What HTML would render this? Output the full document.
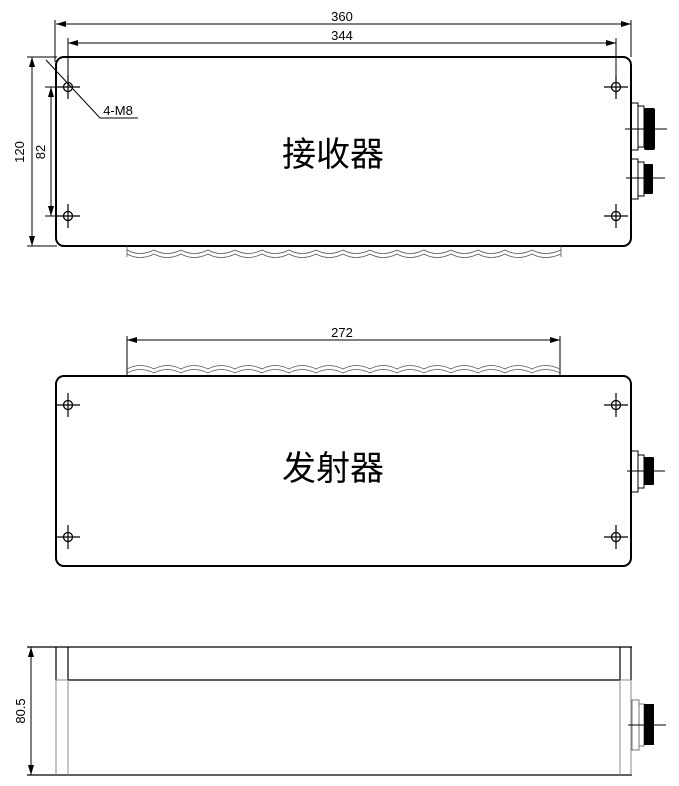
<!DOCTYPE html>
<html><head><meta charset="utf-8"><style>body{margin:0;background:#fff}svg{display:block}</style></head><body>
<svg width="679" height="786" viewBox="0 0 679 786" xmlns="http://www.w3.org/2000/svg" font-family="Liberation Sans, sans-serif">
<defs>
<marker id="a" viewBox="0 0 10 6" refX="10" refY="3" markerWidth="10" markerHeight="6" orient="auto-start-reverse" markerUnits="userSpaceOnUse"><path d="M0,0L10,3L0,6z" fill="#000"/></marker>
<g id="h"><circle r="4.5" fill="none" stroke="#000" stroke-width="1.3"/><path d="M-12,0H12M0,-12V12" stroke="#000" stroke-width="1.2"/></g>
</defs>
<g stroke="#000" fill="none">
<path d="M55,20V62M631,20V57M68,38V90M616,38V90" stroke-width="1"/>
<line x1="56" y1="24" x2="631" y2="24" stroke-width="1" marker-start="url(#a)" marker-end="url(#a)"/>
<line x1="68" y1="43" x2="616" y2="43" stroke-width="1" marker-start="url(#a)" marker-end="url(#a)"/>
<path d="M27,57H57M27,246H57M45,87H70M45,216H70" stroke-width="1"/>
<line x1="32" y1="57" x2="32" y2="246" stroke-width="1" marker-start="url(#a)" marker-end="url(#a)"/>
<line x1="51" y1="87" x2="51" y2="216" stroke-width="1" marker-start="url(#a)" marker-end="url(#a)"/>
<path d="M46,60L100,118H138" stroke-width="1"/>
<rect x="56" y="57" width="575" height="189" rx="8" stroke-width="2"/>
<g stroke-width="0.8" stroke="#555">
<path d="M127,246V257M561,246V257"/>
<path d="M127,250Q140,257 154,250Q167,257 181,250Q194,257 208,250Q221,257 235,250Q248,257 262,250Q275,257 289,250Q302,257 316,250Q329,257 343,250Q356,257 370,250Q383,257 397,250Q410,257 424,250Q437,257 451,250Q464,257 478,250Q491,257 505,250Q518,257 532,250Q545,257 561,250"/>
<path d="M127,254Q140,261 154,254Q167,261 181,254Q194,261 208,254Q221,261 235,254Q248,261 262,254Q275,261 289,254Q302,261 316,254Q329,261 343,254Q356,261 370,254Q383,261 397,254Q410,261 424,254Q437,261 451,254Q464,261 478,254Q491,261 505,254Q518,261 532,254Q545,261 561,254"/>
</g>
<rect x="631" y="103" width="7" height="47" stroke-width="1"/><rect x="638" y="106" width="6" height="41" stroke-width="1"/>
<rect x="631" y="159" width="7" height="40" stroke-width="1"/><rect x="638" y="162" width="6" height="34" stroke-width="1"/>
<path d="M625,129H667M626,178H665" stroke-width="1"/>
<path d="M127,336V376M560,336V376" stroke-width="1"/>
<line x1="127" y1="340" x2="560" y2="340" stroke-width="1" marker-start="url(#a)" marker-end="url(#a)"/>
<g stroke-width="0.8" stroke="#555">
<path d="M127,369Q140,362 154,369Q167,362 181,369Q194,362 208,369Q221,362 235,369Q248,362 262,369Q275,362 289,369Q302,362 316,369Q329,362 343,369Q356,362 370,369Q383,362 397,369Q410,362 424,369Q437,362 451,369Q464,362 478,369Q491,362 505,369Q518,362 532,369Q545,362 560,369"/>
<path d="M127,373Q140,366 154,373Q167,366 181,373Q194,366 208,373Q221,366 235,373Q248,366 262,373Q275,366 289,373Q302,366 316,373Q329,366 343,373Q356,366 370,373Q383,366 397,373Q410,366 424,373Q437,366 451,373Q464,366 478,373Q491,366 505,373Q518,366 532,373Q545,366 560,373"/>
</g>
<rect x="56" y="376" width="575" height="190" rx="8" stroke-width="2"/>
<rect x="631" y="451" width="7" height="41" stroke-width="1"/><rect x="638" y="455" width="6" height="33" stroke-width="1"/>
<path d="M627,471H665" stroke-width="1"/>
<path d="M27,647H632M27,775H632" stroke-width="1.3"/>
<line x1="31" y1="647" x2="31" y2="775" stroke-width="1" marker-start="url(#a)" marker-end="url(#a)"/>
<path d="M56,647V680M631,647V680M68,647V680M620,647V680M68,680H620" stroke-width="1.2"/>
<path d="M56,680V775M631,680V775M68,680V775M620,680V775M56,680H68M620,680H631" stroke="#888" stroke-width="1"/>
<rect x="632" y="700" width="7" height="50" stroke="#777" stroke-width="1"/><rect x="639" y="704" width="5" height="42" stroke="#777" stroke-width="1"/>
<path d="M628,725H666" stroke-width="1"/>
</g>
<g fill="#000">
<rect x="644" y="108" width="11" height="42" rx="2"/><rect x="644" y="164" width="9" height="30" rx="1"/>
<rect x="644" y="457" width="10" height="28" rx="1"/>
<rect x="644" y="704" width="10" height="41"/>
</g>
<use href="#h" x="68" y="87"/><use href="#h" x="616" y="87"/><use href="#h" x="68" y="216"/><use href="#h" x="616" y="216"/>
<use href="#h" x="68" y="405"/><use href="#h" x="616" y="405"/><use href="#h" x="68" y="537"/><use href="#h" x="616" y="537"/>
<g font-size="13" text-anchor="middle">
<text x="342" y="21">360</text><text x="342" y="40">344</text><text x="342" y="337">272</text>
<text x="118" y="115">4-M8</text>
<text transform="translate(24,152) rotate(-90)">120</text>
<text transform="translate(45,152) rotate(-90)">82</text>
<text transform="translate(25,711) rotate(-90)">80.5</text>
</g>
<g font-size="34" text-anchor="middle" font-family="Liberation Sans, Noto Sans CJK SC, sans-serif">
<text x="333" y="166">接收器</text><text x="333" y="480">发射器</text>
</g>
</svg>
</body></html>
